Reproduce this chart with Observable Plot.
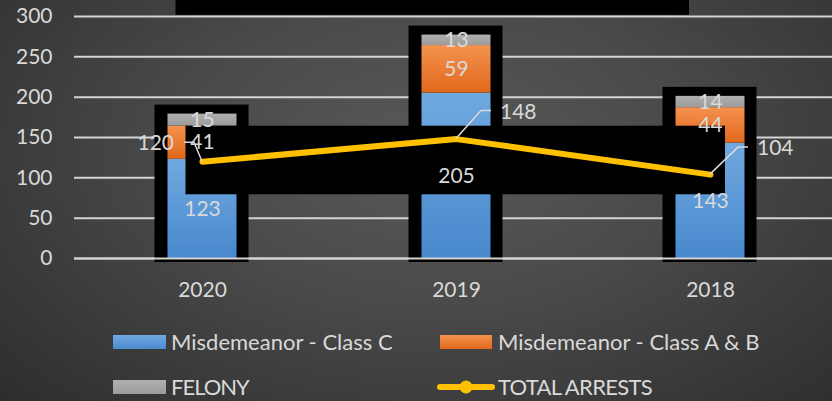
<!DOCTYPE html>
<html><head><meta charset="utf-8">
<script src="https://cdn.jsdelivr.net/npm/d3@7"></script>
<script src="https://cdn.jsdelivr.net/npm/@observablehq/plot@0.6"></script>
<style>
html,body{margin:0;padding:0;}
body{width:832px;height:401px;overflow:hidden;position:relative;
  background:radial-gradient(ellipse 75% 95% at 52% 38%, #595959 0%, #4a4a4a 40%, #2b2b2b 100%);
  font-family:Lato, sans-serif;color:#d9d9d9;}
#chart svg{display:block;background:transparent;overflow:visible}
.sw{position:absolute;width:53px;height:14px}
.lt{position:absolute;font-size:22px;line-height:24px;white-space:nowrap;color:#d9d9d9}
</style></head>
<body>
<div id="chart"></div>
<div class="sw" style="left:113px;top:335px;background:linear-gradient(#70a9e0,#4b8bcf)"></div>
<div class="lt" style="left:171px;top:330px">Misdemeanor - Class C</div>
<div class="sw" style="left:440px;top:335px;width:52px;background:linear-gradient(#f4924f,#e2691c)"></div>
<div class="lt" style="left:498px;top:330px">Misdemeanor - Class A &amp; B</div>
<div class="sw" style="left:113px;top:380px;background:linear-gradient(#b0b0b0,#9b9b9b)"></div>
<div class="lt" style="left:171px;top:375px;letter-spacing:-1px">FELONY</div>
<svg style="position:absolute;left:436px;top:378px" width="60" height="18"><line x1="4" y1="9" x2="56" y2="9" stroke="#ffc000" stroke-width="6" stroke-linecap="round"/><circle cx="30" cy="9" r="6.5" fill="#ffc000"/></svg>
<div class="lt" style="left:498px;top:375px;letter-spacing:-0.7px">TOTAL ARRESTS</div>
<script>
const years = ["2020", "2019", "2018"];
const seriesNames = ["Misdemeanor - Class C", "Misdemeanor - Class A & B", "FELONY"];
const classC = [123, 205, 143];
const classAB = [41, 59, 44];
const felony = [15, 13, 14];
const totalArrests = [120, 148, 104];
const yTicks = [0, 50, 100, 150, 200, 250, 300];

const rows = years.flatMap((year, i) => [
  {year, series: seriesNames[0], value: classC[i]},
  {year, series: seriesNames[1], value: classAB[i]},
  {year, series: seriesNames[2], value: felony[i]}
]);
const stackTotals = years.map((year, i) => ({year, total: classC[i] + classAB[i] + felony[i]}));
const lineRows = years.map((year, i) => ({year, total: totalArrests[i]}));

const fills = {
  [seriesNames[0]]: "url(#gBlue)",
  [seriesNames[1]]: "url(#gOrange)",
  [seriesNames[2]]: "url(#gGray)"
};
const LABEL = "#d9d9d9";

// leader offsets (pixels) for the total-arrests labels
const leaderCfg = [
  {pts: [[0,0],[-8,-19],[-18,-19]], tx: -28, ty: -19, anchor: "end"},
  {pts: [[0,0],[25,-28],[35,-28]], tx: 44, ty: -27, anchor: "start"},
  {pts: [[0,0],[28,-27],[38,-27]], tx: 47, ty: -26, anchor: "start"}
];

function centerX(scales, yr) {
  const bw = scales.x.bandwidth ? scales.x.bandwidth() : 0;
  return scales.x(yr) + bw / 2;
}

function redactions(index, scales) {
  const g = d3.create("svg:g");
  const c0 = centerX(scales, years[0]), c2 = centerX(scales, years[2]);
  g.append("rect").attr("x", c0 - 16.5).attr("width", (c2 + 15) - (c0 - 16.5))
    .attr("y", scales.y(164)).attr("height", scales.y(79) - scales.y(164)).attr("fill", "#000");
  g.append("rect").attr("x", c0 - 26.5).attr("width", (c2 - 21) - (c0 - 26.5))
    .attr("y", -5).attr("height", scales.y(301.5) + 5).attr("fill", "#000");
  return g.node();
}

function leaders(index, scales) {
  const g = d3.create("svg:g");
  years.forEach((yr, i) => {
    const cx = centerX(scales, yr), cy = scales.y(totalArrests[i]);
    const cfg = leaderCfg[i];
    g.append("polyline")
      .attr("points", cfg.pts.map(([dx, dy]) => `${cx + dx},${cy + dy}`).join(" "))
      .attr("fill", "none").attr("stroke", LABEL).attr("stroke-width", 1.5);
    g.append("text").attr("x", cx + cfg.tx).attr("y", cy + cfg.ty).attr("dy", "0.35em")
      .attr("text-anchor", cfg.anchor).attr("fill", LABEL).attr("font-size", 21)
      .attr("font-family", "Lato, sans-serif").text(totalArrests[i]);
  });
  return g.node();
}

const chart = Plot.plot({
  width: 832,
  height: 310,
  marginTop: 16,
  marginBottom: 52,
  marginLeft: 74,
  marginRight: 0,
  style: {background: "transparent", fontFamily: "Lato, sans-serif", color: LABEL, overflow: "visible"},
  x: {domain: years, range: [74.5, 836.5], padding: 0},
  y: {domain: [0, 300], range: [258, 16]},
  marks: [
    Plot.ruleY(yTicks, {stroke: "#d4d4d4", strokeWidth: 2}),
    Plot.barY(stackTotals, {x: "year", y: "total", fill: "#000",
      insetLeft: 79.5, insetRight: 80.5, insetTop: -9, insetBottom: -4}),
    Plot.barY(rows, Plot.stackY({x: "year", y: "value", fill: d => fills[d.series],
      insetLeft: 92.5, insetRight: 92.5})),
    Plot.ruleY([0], {stroke: "#d4d4d4", strokeWidth: 2}),
    redactions,
    Plot.line(lineRows, {x: "year", y: "total", stroke: "#ffc000", strokeWidth: 6,
      strokeLinecap: "round", strokeLinejoin: "round"}),
    leaders,
    Plot.text(rows, Plot.stackY({x: "year", y: "value", text: d => String(d.value),
      fill: LABEL, fontSize: 21})),
    Plot.axisY({ticks: yTicks, tickSize: 0, tickPadding: 22, fontSize: 21, label: null}),
    Plot.axisX({tickSize: 0, tickPadding: 24, fontSize: 21, label: null})
  ]
});

d3.select(chart).insert("defs", ":first-child").html(`
  <linearGradient id="gBlue" x1="0" y1="0" x2="0" y2="1"><stop offset="0" stop-color="#70a9e0"/><stop offset="1" stop-color="#4888cd"/></linearGradient>
  <linearGradient id="gOrange" x1="0" y1="0" x2="0" y2="1"><stop offset="0" stop-color="#f4924f"/><stop offset="1" stop-color="#e1681b"/></linearGradient>
  <linearGradient id="gGray" x1="0" y1="0" x2="0" y2="1"><stop offset="0" stop-color="#b0b0b0"/><stop offset="1" stop-color="#9b9b9b"/></linearGradient>
`);
document.getElementById("chart").appendChild(chart);
</script>
</body></html>
